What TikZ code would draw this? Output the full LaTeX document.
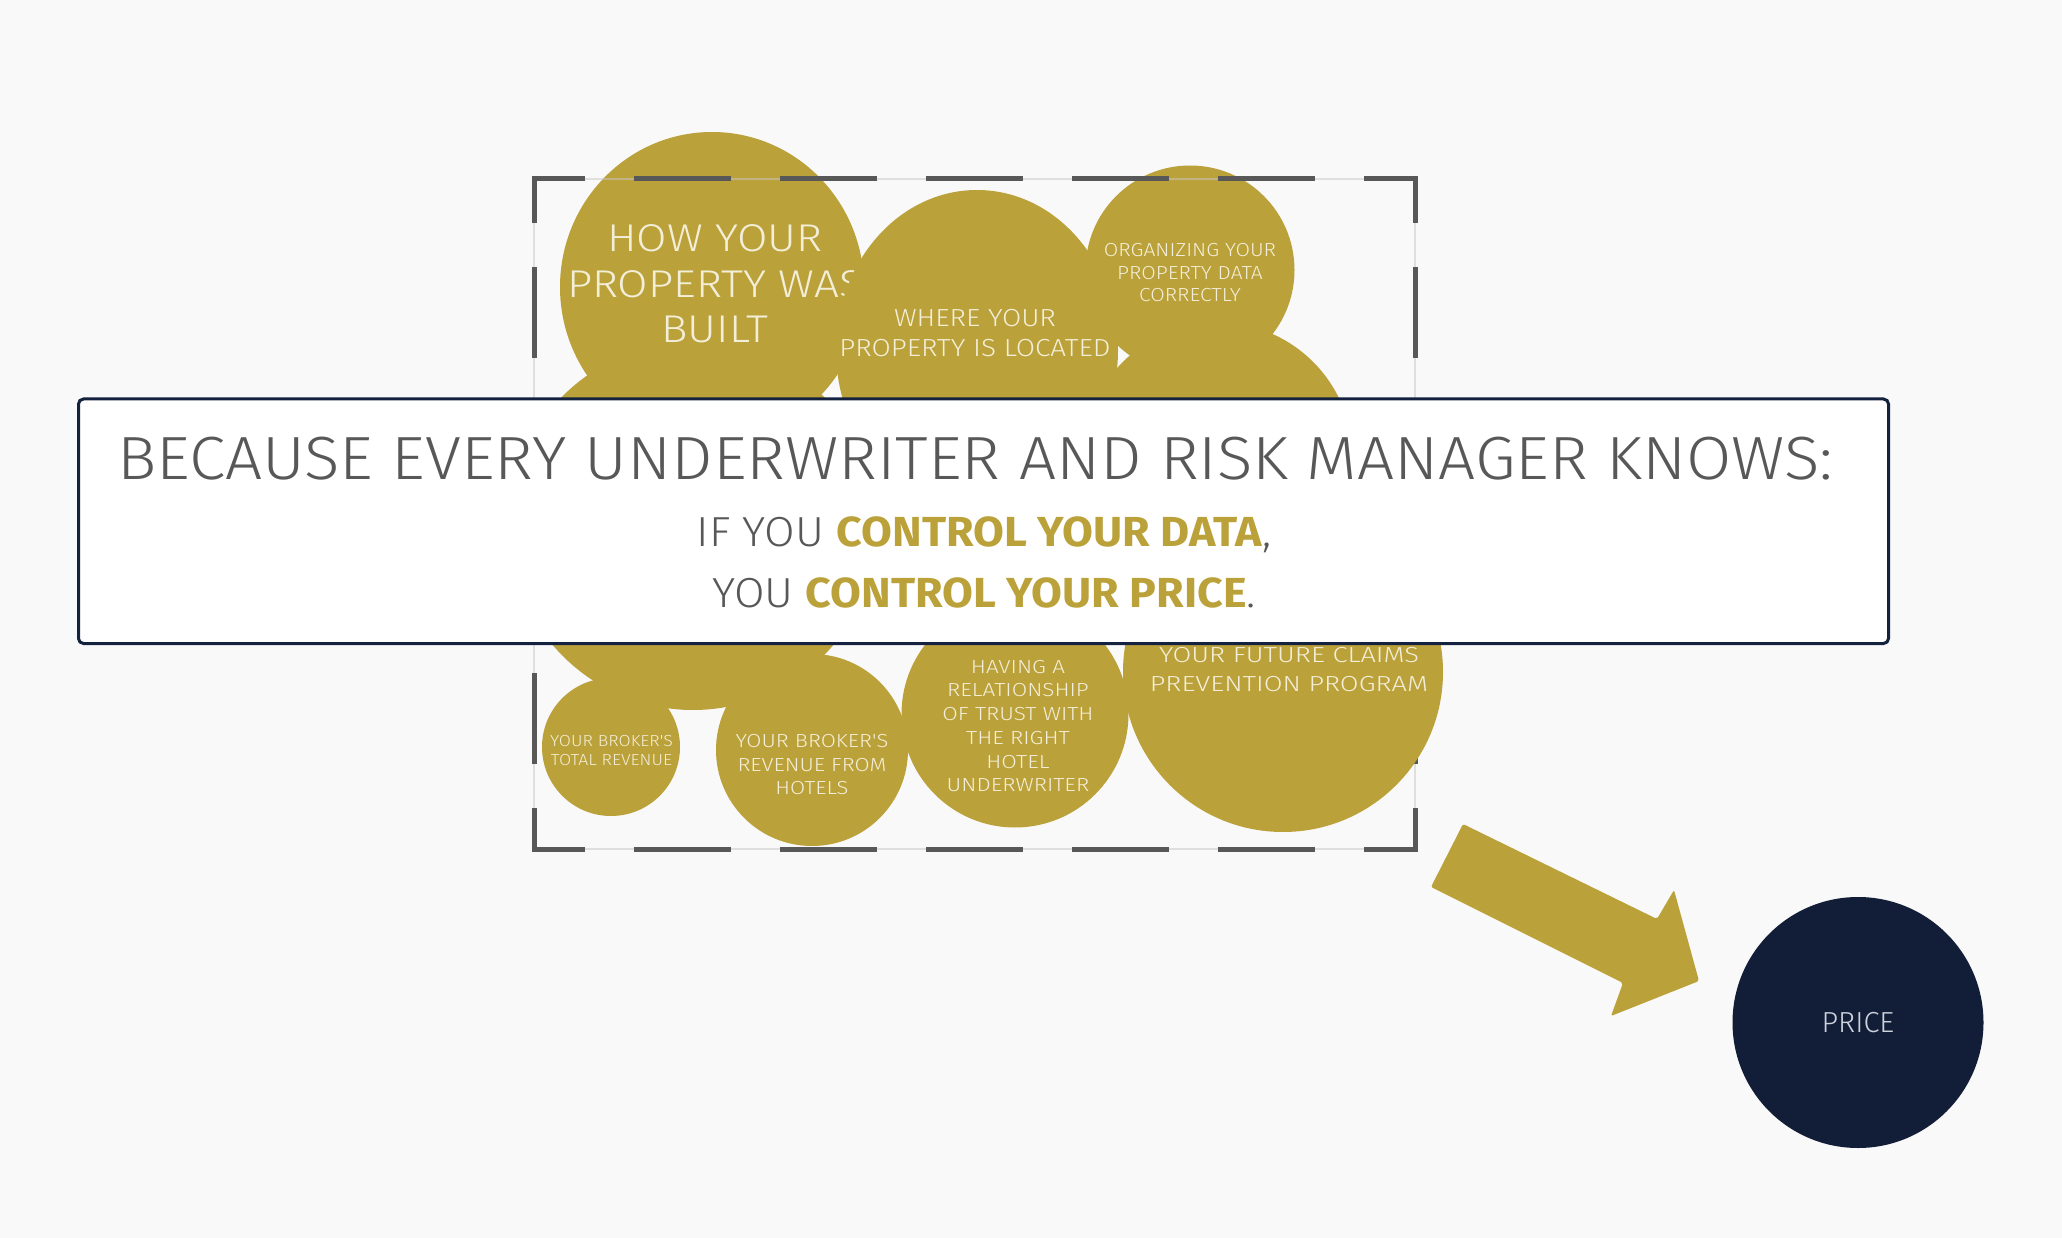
\documentclass[tikz,border=0pt]{standalone}
\usepackage{fontspec}
\newcommand\mklight[2]{\IfFontExistsTF{Fira Sans Light}{\newfontfamily#1{Fira Sans Light}[FakeStretch=#2]}{%
  \IfFontExistsTF{FiraSans-Light.otf}{\newfontfamily#1{FiraSans-Light.otf}[FakeStretch=#2]}{\newfontfamily#1{Fira Sans}[FakeStretch=#2]}}}
\mklight{\lfhead}{1.076}
\mklight{\lfsub}{1.055}
\mklight{\lfa}{1.14}
\mklight{\lfb}{1.13}
\mklight{\lfc}{1.11}
\mklight{\lft}{1.10}
\mklight{\lfh}{1.16}
\mklight{\lfr}{1.19}
\mklight{\lff}{1.25}
\mklight{\lfp}{1.0}
\newfontfamily\regf{Fira Sans}[FakeStretch=1.065]
\definecolor{gold}{RGB}{187,161,58}
\definecolor{navy}{RGB}{18,30,56}
\definecolor{boxline}{RGB}{20,34,63}
\definecolor{bgc}{RGB}{249,249,249}
\definecolor{tgray}{RGB}{88,88,88}
\definecolor{cream}{RGB}{243,238,216}
\definecolor{dashc}{RGB}{88,88,88}
\definecolor{pricet}{RGB}{205,210,220}
\tikzset{
  ctext/.style={text=cream, align=center, inner sep=0pt},
  dashside/.style={draw=dashc, line width=5pt, line cap=rect},
}
\begin{document}
\begin{tikzpicture}[x=1pt,y=-1pt]
\useasboundingbox (0,0) rectangle (2062,1238);
\fill[bgc] (0,0) rectangle (2062,1238);

% frame corners
\coordinate (fa) at (534,179);
\coordinate (fb) at (1415,179);
\coordinate (fc) at (1415,849);
\coordinate (fd) at (534,849);

% upper bubbles
\fill[gold] (693,526) circle[radius=184];
\fill[gold] (712,287) ellipse[x radius=152, y radius=155];
\node[ctext, font=\lfa\fontsize{38.7}{45.5}\selectfont] (built) at (715,284) {HOW YOUR\\PROPERTY WAS\\BUILT};
\fill[gold] (977,350) ellipse[x radius=141, y radius=160];
\node[ctext, font=\lfb\fontsize{24.7}{30}\selectfont] (located) at (975,333.5) {WHERE YOUR\\PROPERTY IS LOCATED};
\fill[gold] (1218,457) circle[radius=134.5];
\fill[gold] (1190,270) circle[radius=104.5];
\node[ctext, font=\lfc\fontsize{18.9}{22.5}\selectfont] (organize) at (1190,273) {ORGANIZING YOUR\\PROPERTY DATA\\CORRECTLY};

% dashed frame
\draw[bgc!80!black, line width=1.2pt, opacity=0.5] (fa) rectangle (fc);
\draw[dashside, dash pattern=on 92pt off 54pt, dash phase=43.5pt] (fa) -- (fb);
\draw[dashside, dash pattern=on 92pt off 54pt, dash phase=43.5pt] (fd) -- (fc);
\draw[dashside, dash pattern=on 86pt off 49pt, dash phase=44pt] (fa) -- (fd);
\draw[dashside, dash pattern=on 86pt off 49pt, dash phase=44pt] (fb) -- (fc);

% lower bubbles
\fill[gold] (611,747) circle[radius=69];
\node[ctext, font=\lft\fontsize{16}{19}\selectfont] (total) at (611.5,751) {YOUR BROKER'S\\TOTAL REVENUE};
\fill[gold] (812,750) circle[radius=96];
\node[ctext, font=\lfh\fontsize{18.9}{23.5}\selectfont] (hotels) at (812,765) {YOUR BROKER'S\\REVENUE FROM\\HOTELS};
\fill[gold] (1015,714) circle[radius=113.5];
\node[ctext, font=\lfr\fontsize{18.9}{23.7}\selectfont] (trust) at (1018,726) {HAVING A\\RELATIONSHIP\\OF TRUST WITH\\THE RIGHT\\HOTEL\\UNDERWRITER};
\fill[gold] (1283,672) circle[radius=160];
\node[ctext, font=\lff\fontsize{21.8}{29}\selectfont] (claims) at (1289,670) {YOUR FUTURE CLAIMS\\PREVENTION PROGRAM};

% message box
\node[draw=boxline, line width=3pt, rounded corners=5pt, fill=white,
      minimum width=1810pt, minimum height=244.5pt, inner sep=0pt] (msgbox) at (983.5,521.25) {};
\node[anchor=base, text=tgray, inner sep=0pt, font=\lfhead\fontsize{61}{70}\selectfont] (line1) at (975.5,479)
  {BECAUSE EVERY UNDERWRITER AND RISK MANAGER KNOWS:};
\node[anchor=base, text=tgray, inner sep=0pt, font=\lfsub\fontsize{42}{50}\selectfont] (line2) at (984,546)
  {IF YOU {\regf\bfseries\color{gold}CONTROL YOUR DATA},};
\node[anchor=base, text=tgray, inner sep=0pt, font=\lfsub\fontsize{42}{50}\selectfont] (line3) at (984,607)
  {YOU {\regf\bfseries\color{gold}CONTROL YOUR PRICE}.};

% block arrow
\fill[gold, rounded corners=2pt] (1463,824) -- (1657,919) -- (1674,890) -- (1699,981)
   -- (1611,1016) -- (1623,983) -- (1431,887) -- cycle;

% price
\node[circle, fill=navy, minimum size=251pt, inner sep=0pt, text=pricet,
      font=\lfp\fontsize{29}{34}\selectfont] (price) at (1858,1022.5) {PRICE};
\end{tikzpicture}
\end{document}
